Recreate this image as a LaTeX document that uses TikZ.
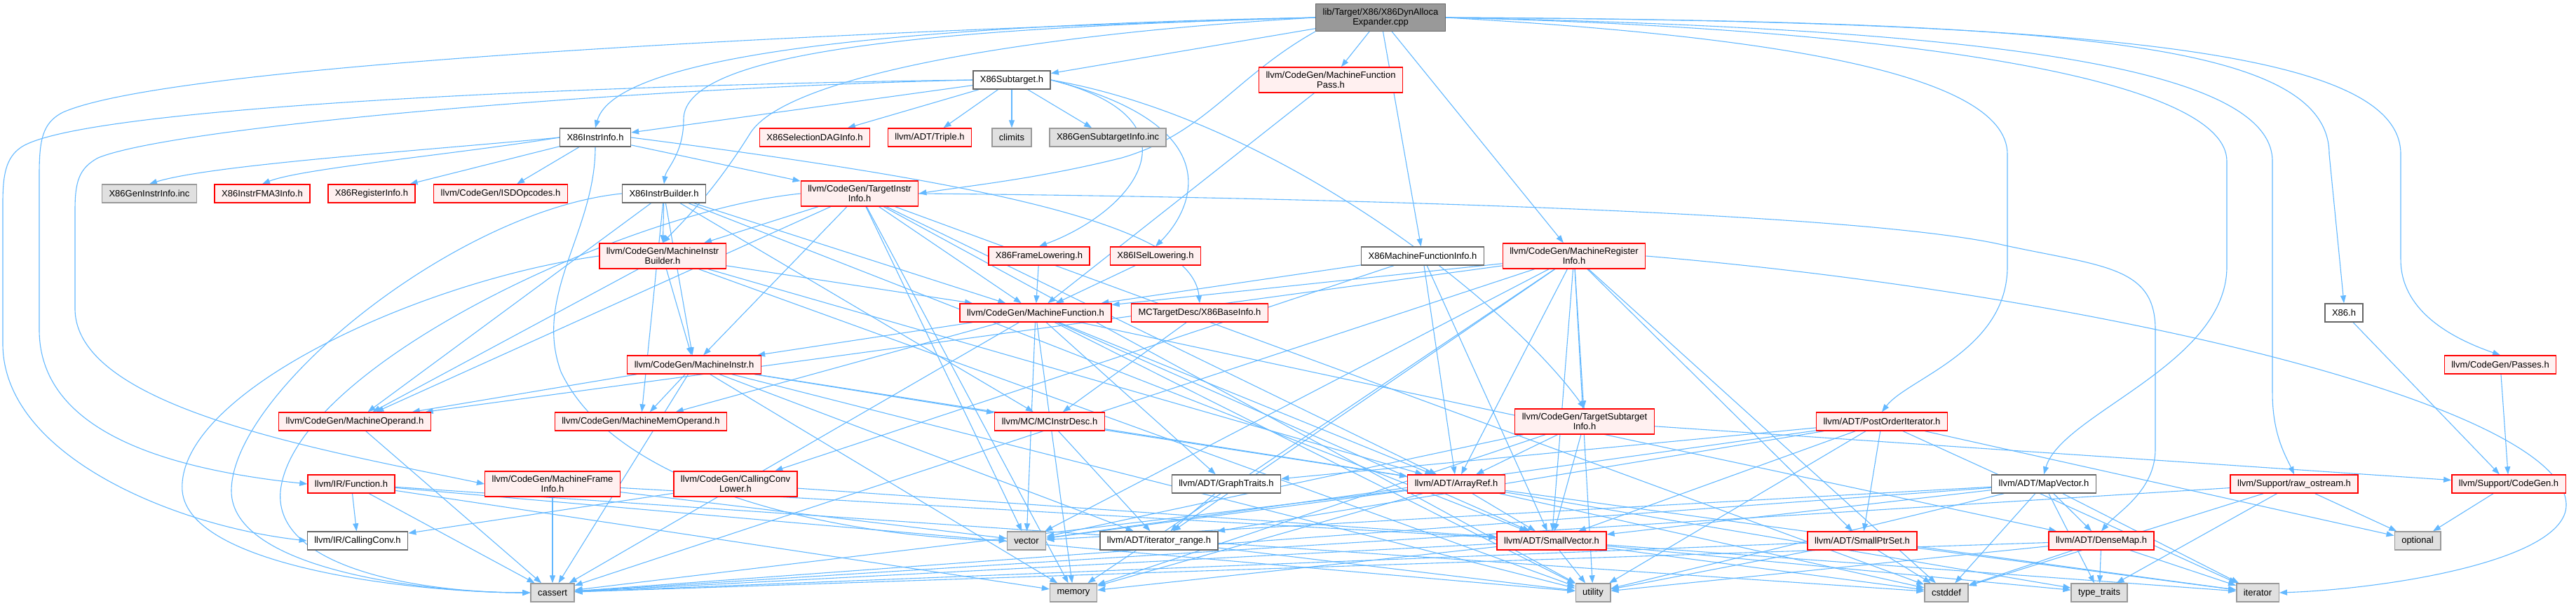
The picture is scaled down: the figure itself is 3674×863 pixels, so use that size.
\documentclass[tikz,border=0pt]{standalone}
\usepackage{fontspec}
\setmainfont{Liberation Sans}
\usepackage{tikz}
\usetikzlibrary{arrows.meta,backgrounds}

\definecolor{edgeblue}{HTML}{63B8FF}
\definecolor{hdrfill}{HTML}{FFF0F0}
\definecolor{sysfill}{HTML}{E0E0E0}
\definecolor{sysline}{HTML}{999999}
\definecolor{boxline}{HTML}{666666}

\begin{document}
\begin{tikzpicture}[
    x=1pt, y=-1pt,
    nbox/.style={rectangle, line width=1.4pt, align=center, inner xsep=10pt, inner ysep=6pt, minimum height=26pt, font=\fontsize{13}{14.5}\selectfont},
    rd/.style={nbox, draw=red, fill=hdrfill},
    gy/.style={nbox, draw=sysline, fill=sysfill},
    wt/.style={nbox, draw=boxline, fill=white},
    rootbox/.style={nbox, draw=boxline, fill=sysline},
    arr/.style={-{Triangle[length=11pt,width=8pt]}, line width=1.1pt, draw=edgeblue}
]
    \useasboundingbox (0,0) rectangle (3674,863);

    % rows, top to bottom
    \node [rootbox] (root) at (1969,25) {lib/Target/X86/X86DynAlloca\\Expander.cpp};

    \node [wt] (sub) at (1443,114) {X86Subtarget.h};
    \node [rd] (mfp) at (1898,114) {llvm/CodeGen/MachineFunction\\Pass.h};

    \node [wt] (ii) at (849,196) {X86InstrInfo.h};
    \node [rd] (sel) at (1162,196) {X86SelectionDAGInfo.h};
    \node [rd] (trip) at (1326,196) {llvm/ADT/Triple.h};
    \node [gy] (clim) at (1443,196) {climits};
    \node [gy] (gsi) at (1580,196) {X86GenSubtargetInfo.inc};

    \node [gy] (gii) at (213,276) {X86GenInstrInfo.inc};
    \node [rd] (fma) at (374,276) {X86InstrFMA3Info.h};
    \node [rd] (reg) at (530,276) {X86RegisterInfo.h};
    \node [rd] (isd) at (714,276) {llvm/CodeGen/ISDOpcodes.h};
    \node [wt] (ib) at (947,276) {X86InstrBuilder.h};
    \node [rd] (tii) at (1226,276) {llvm/CodeGen/TargetInstr\\Info.h};

    \node [rd] (mib) at (945,365) {llvm/CodeGen/MachineInstr\\Builder.h};
    \node [rd] (flow) at (1482,365) {X86FrameLowering.h};
    \node [rd] (isel) at (1648,365) {X86ISelLowering.h};
    \node [wt] (xmfi) at (2029,365) {X86MachineFunctionInfo.h};
    \node [rd] (mri) at (2245,365) {llvm/CodeGen/MachineRegister\\Info.h};

    \node [rd] (mf) at (1477,446) {llvm/CodeGen/MachineFunction.h};
    \node [rd] (bi) at (1711,446) {MCTargetDesc/X86BaseInfo.h};
    \node [wt] (x86) at (3343,446) {X86.h};

    \node [rd] (mi) at (990,520) {llvm/CodeGen/MachineInstr.h};
    \node [rd] (pas) at (3566,520) {llvm/CodeGen/Passes.h};

    \node [rd] (mo) at (506,601) {llvm/CodeGen/MachineOperand.h};
    \node [rd] (mmo) at (914,601) {llvm/CodeGen/MachineMemOperand.h};
    \node [rd] (mcid) at (1497,601) {llvm/MC/MCInstrDesc.h};
    \node [rd] (tsi) at (2260,601) {llvm/CodeGen/TargetSubtarget\\Info.h};
    \node [rd] (poi) at (2684,601) {llvm/ADT/PostOrderIterator.h};

    \node [rd] (fn) at (501,690) {llvm/IR/Function.h};
    \node [rd] (mframe) at (788,690) {llvm/CodeGen/MachineFrame\\Info.h};
    \node [rd] (ccl) at (1049,690) {llvm/CodeGen/CallingConv\\Lower.h};
    \node [wt] (gt) at (1749,690) {llvm/ADT/GraphTraits.h};
    \node [rd] (ar) at (2077,690) {llvm/ADT/ArrayRef.h};
    \node [wt] (mv) at (2915,690) {llvm/ADT/MapVector.h};
    \node [rd] (ros) at (3272,690) {llvm/Support/raw\_ostream.h};
    \node [rd] (cg) at (3578,690) {llvm/Support/CodeGen.h};

    \node [wt] (cc) at (510,771) {llvm/IR/CallingConv.h};
    \node [gy] (vec) at (1464,771) {vector};
    \node [wt] (itr) at (1653,771) {llvm/ADT/iterator\_range.h};
    \node [rd] (sv) at (2213,771) {llvm/ADT/SmallVector.h};
    \node [rd] (spt) at (2656,771) {llvm/ADT/SmallPtrSet.h};
    \node [rd] (dm) at (2997,771) {llvm/ADT/DenseMap.h};
    \node [gy] (opt) at (3448,771) {optional};

    \node [gy] (cas) at (788,845) {cassert};
    \node [gy] (mem) at (1531,845) {memory};
    \node [gy] (util) at (2272,845) {utility};
    \node [gy] (cdef) at (2776,845) {cstddef};
    \node [gy] (tt) at (2994,845) {type\_traits};
    \node [gy] (iter) at (3220,845) {iterator};

    \begin{scope}[on background layer]
    % from the .cpp file
    \draw [arr] (root) -- (sub);
    \draw [arr] (root) -- (mfp);
    \draw [arr] (root) -- (xmfi);
    \draw [arr] (root) -- (mri);
    \draw [arr] (root.west) .. controls (1350,35) and (880,70) .. (ii.north);
    \draw [arr] (root.west) .. controls (1350,40) and (975,70) .. (975,170) .. controls (975,220) and (950,240) .. (ib.north);
    \draw [arr] (root.west) .. controls (1450,50) and (1120,110) .. (1070,190) .. controls (1020,270) and (980,310) .. (mib.north);
    \draw [arr] (root.south west) .. controls (1760,110) and (1720,190) .. (1600,225) .. controls (1480,255) and (1380,265) .. (tii.east);
    \draw [arr] (root.west) .. controls (1200,45) and (250,90) .. (90,160) .. controls (60,175) and (56,200) .. (56,250) -- (56,470) .. controls (56,620) and (250,670) .. (fn.west);
    \draw [arr] (root.east) .. controls (2500,50) and (2863,100) .. (2863,220) -- (2863,380) .. controls (2863,500) and (2720,540) .. (poi.north);
    \draw [arr] (root.east) .. controls (2700,40) and (3176,110) .. (3176,230) -- (3176,380) .. controls (3176,520) and (2940,590) .. (mv.north);
    \draw [arr] (root.east) .. controls (2800,40) and (3241,90) .. (3241,230) -- (3241,560) .. controls (3241,620) and (3260,650) .. (ros.north);
    \draw [arr] (root.east) .. controls (2950,30) and (3322,60) .. (3322,220) -- (x86.north);
    \draw [arr] (root.east) .. controls (3050,30) and (3424,80) .. (3424,220) -- (3424,370) .. controls (3424,440) and (3490,480) .. (pas.north);

    % X86Subtarget.h
    \foreach \t in {ii,sel,trip,clim,gsi} \draw [arr] (sub) -- (\t);
    \draw [arr] (sub.east) .. controls (1720,170) and (1620,300) .. (flow.north);
    \draw [arr] (sub.east) .. controls (1760,180) and (1700,300) .. (isel.north);
    \draw [arr] (sub.east) .. controls (1820,170) and (2150,430) .. (tsi.north);
    \draw [arr] (sub.west) .. controls (900,120) and (120,150) .. (30,210) .. controls (8,225) and (4,250) .. (4,290) -- (4,490) .. controls (4,650) and (250,750) .. (cc.west);
    \draw [arr] (sub.west) .. controls (900,125) and (250,180) .. (140,225) .. controls (112,240) and (107,260) .. (107,300) -- (107,440) .. controls (107,580) and (450,640) .. (mframe.west);

    % X86InstrInfo.h
    \draw [arr] (ii.west) .. controls (600,215) and (300,235) .. (gii.north);
    \draw [arr] (ii.west) .. controls (650,220) and (430,240) .. (fma.north);
    \foreach \t in {reg,isd,tii} \draw [arr] (ii) -- (\t);
    \draw [arr] (ii.east) .. controls (1400,260) and (1700,320) .. (bi.north);
    \draw [arr] (ii.south) .. controls (849,330) and (760,420) .. (800,530) .. controls (880,700) and (1200,765) .. (vec.west);

    % X86InstrBuilder.h
    \foreach \t in {mib,mi,mo,mmo,mf,mcid,sv} \draw [arr] (ib) -- (\t);
    \draw [arr] (ib.west) .. controls (650,300) and (330,560) .. (330,700) .. controls (330,810) and (600,845) .. (cas.west);

    % TargetInstrInfo.h
    \foreach \t in {mib,mi,mo,mf,ar,vec,mem,cdef,util} \draw [arr] (tii) -- (\t);
    \draw [arr] (tii.west) .. controls (900,300) and (420,520) .. (400,700) .. controls (390,810) and (600,845) .. (cas.west);
    \draw [arr] (tii.east) .. controls (1800,280) and (2650,300) .. (2860,350) .. controls (3000,380) and (3074,380) .. (3074,470) -- (3074,640) .. controls (3074,700) and (3020,730) .. (dm.north);

    % MachineInstrBuilder.h
    \foreach \t in {mf,mi,mo,ar,util} \draw [arr] (mib) -- (\t);
    \draw [arr] (mib.west) .. controls (600,400) and (250,560) .. (260,700) .. controls (270,810) and (600,845) .. (cas.west);

    \draw [arr] (mfp) -- (mf);
    \draw [arr] (flow) -- (mf);
    \draw [arr] (isel) -- (mf);
    \draw [arr] (bi) -- (mcid);
    \draw [arr] (x86) -- (cg);
    \draw [arr] (pas) -- (cg);
    \draw [arr] (cg) -- (opt);

    \foreach \t in {mf,ar,sv,ccl} \draw [arr] (xmfi) -- (\t);

    % MachineRegisterInfo.h
    \foreach \t in {mf,mo,ar,tsi,sv,spt,itr,cas,cdef,mem,util,vec} \draw [arr] (mri) -- (\t);
    \draw [arr] (mri.east) .. controls (3000,420) and (3660,580) .. (3660,720) .. controls (3660,800) and (3400,840) .. (iter.east);

    \foreach \t in {mi,mmo,ar,gt,sv,dm,cas,mem,util,vec} \draw [arr] (mf) -- (\t);
    \foreach \t in {mo,mmo,mcid,ar,itr,cas,util,mem} \draw [arr] (mi) -- (\t);
    \draw [arr] (mo) -- (cas);
    \foreach \t in {ar,itr} \draw [arr] (mcid) -- (\t);
    \foreach \t in {sv,cas,cdef,iter,mem,tt,vec} \draw [arr] (ar) -- (\t);
    \foreach \t in {cas,cdef,iter,mem,tt,util} \draw [arr] (sv) -- (\t);
    \draw [arr] (gt) -- (itr);
    \draw [arr] (itr) -- (util);
    \foreach \t in {ar,sv,cg,mem,vec} \draw [arr] (tsi) -- (\t);
    \foreach \t in {gt,spt,sv,itr,iter,opt,util,vec} \draw [arr] (poi) -- (\t);
    \foreach \t in {dm,sv,cas,cdef,iter,tt,util,vec} \draw [arr] (mv) -- (\t);
    \foreach \t in {cas,cdef,opt,tt} \draw [arr] (ros) -- (\t);
    \foreach \t in {cas,cdef,iter,util} \draw [arr] (spt) -- (\t);
    \foreach \t in {cas,cdef,iter,tt,util} \draw [arr] (dm) -- (\t);
    \foreach \t in {cc,cas,cdef,mem,util} \draw [arr] (fn) -- (\t);
    \foreach \t in {sv,cas,vec} \draw [arr] (mframe) -- (\t);
    \foreach \t in {cc,sv} \draw [arr] (ccl) -- (\t);
    \end{scope}
\end{tikzpicture}
\end{document}
